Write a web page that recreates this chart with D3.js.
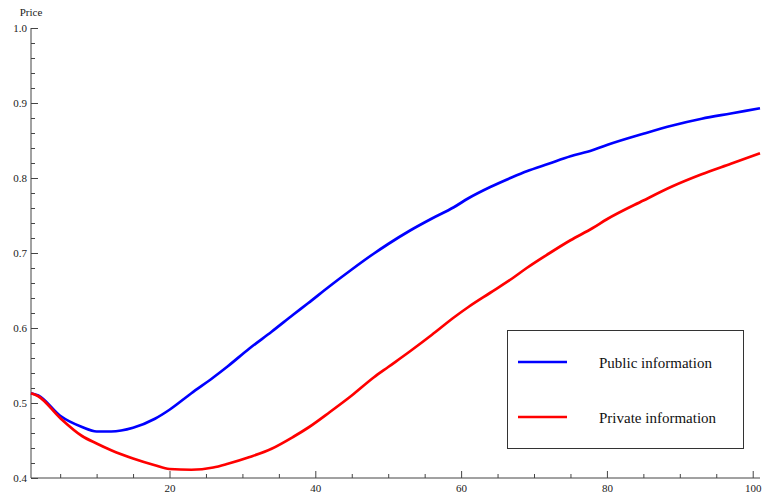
<!DOCTYPE html>
<html>
<head>
<meta charset="utf-8">
<script src="https://cdn.jsdelivr.net/npm/d3@7"></script>
<style>
  html, body { margin: 0; padding: 0; background: #fff; }
  svg { display: block; }
  text { font-family: "Liberation Serif", "Times New Roman", serif; }
</style>
</head>
<body>
<svg id="chart" width="767" height="495"></svg>
<script>
const periods = [1,2,5,8,10,12,15,18,20,23,26,28,31,34,37,39,42,45,48,50,53,56,59,61,64,67,69,72,75,78,80,85,89,93,97,101];
const publicInfo = [0.513,0.510,0.483,0.468,0.462,0.462,0.467,0.479,0.491,0.513,0.534,0.549,0.573,0.595,0.618,0.633,0.656,0.678,0.699,0.712,0.730,0.746,0.761,0.773,0.788,0.801,0.809,0.819,0.829,0.837,0.844,0.859,0.870,0.879,0.886,0.893];
const privateInfo = [0.513,0.509,0.480,0.456,0.446,0.437,0.426,0.417,0.412,0.411,0.414,0.419,0.428,0.439,0.455,0.467,0.488,0.510,0.534,0.548,0.569,0.591,0.614,0.628,0.647,0.666,0.680,0.699,0.717,0.733,0.745,0.770,0.789,0.805,0.819,0.833];
const xMajorTicks = [20,40,60,80,100];
const xMinorTicks = [5,10,15,25,30,35,45,50,55,65,70,75,85,90,95];
const yMajorTicks = [0.4,0.5,0.6,0.7,0.8,0.9,1.0];
const yMinorTicks = [0.42,0.44,0.46,0.48,0.52,0.54,0.56,0.58,0.62,0.64,0.66,0.68,0.72,0.74,0.76,0.78,0.82,0.84,0.86,0.88,0.92,0.94,0.96,0.98];
const seriesNames = ["Public information", "Private information"];
const seriesColors = ["#0000ff", "#ff0000"];
const yLabel = "Price";

const svg = d3.select("#chart");
const x = d3.scaleLinear().domain([1, 101]).range([31, 760]);
const y = d3.scaleLinear().domain([0.4, 1.0]).range([478, 28]);
const axisColor = "#444";
const serif = '"Liberation Serif", "Times New Roman", serif';

// X axis
const gx = svg.append("g").attr("transform", `translate(0,${y(0.4)})`)
  .call(d3.axisTop(x).tickValues(xMinorTicks).tickSize(4).tickFormat(""));
gx.select(".domain").remove();
const gxMaj = svg.append("g").attr("transform", `translate(0,${y(0.4)})`)
  .call(d3.axisTop(x).tickValues(xMajorTicks).tickSize(7).tickFormat(""));
gxMaj.select(".domain").remove();
const gxLab = svg.append("g").attr("transform", `translate(0,${y(0.4)})`)
  .call(d3.axisBottom(x).tickValues(xMajorTicks).tickSize(0).tickPadding(6).tickFormat(d3.format("d")));
gxLab.select(".domain").remove();
gxLab.attr("font-family", serif);
gxLab.selectAll("text").attr("font-size", 11).attr("fill", "#222").style("font-family", serif);
svg.append("line").attr("x1", x(1)).attr("x2", x(101)).attr("y1", y(0.4)).attr("y2", y(0.4))
  .attr("stroke", axisColor).attr("stroke-width", 1);

// Y axis
const gy = svg.append("g").attr("transform", `translate(${x(1)},0)`)
  .call(d3.axisRight(y).tickValues(yMinorTicks).tickSize(4).tickFormat(""));
gy.select(".domain").remove();
const gyMaj = svg.append("g").attr("transform", `translate(${x(1)},0)`)
  .call(d3.axisRight(y).tickValues(yMajorTicks).tickSize(7).tickFormat(""));
gyMaj.select(".domain").remove();
const gyLab = svg.append("g").attr("transform", `translate(${x(1)},0)`)
  .call(d3.axisLeft(y).tickValues(yMajorTicks).tickSize(0).tickPadding(4).tickFormat(d3.format(".1f")));
gyLab.select(".domain").remove();
gyLab.attr("font-family", serif);
gyLab.selectAll("text").attr("font-size", 11).attr("fill", "#222").style("font-family", serif);
svg.append("line").attr("x1", x(1)).attr("x2", x(1)).attr("y1", y(0.4)).attr("y2", y(1.0))
  .attr("stroke", axisColor).attr("stroke-width", 1);

svg.selectAll(".tick line").attr("stroke", axisColor);

svg.append("text").attr("x", x(1)).attr("y", 16).attr("text-anchor", "middle")
  .attr("font-size", 11).attr("fill", "#222").text(yLabel);

// Lines
const series = [publicInfo, privateInfo];
const line = d3.line().x((d, i) => x(periods[i])).y(d => y(d)).curve(d3.curveMonotoneX);
svg.append("g").selectAll("path").data(series).join("path")
  .attr("d", d => line(d))
  .attr("fill", "none")
  .attr("stroke", (d, i) => seriesColors[i])
  .attr("stroke-width", 2.7)
  .attr("stroke-linejoin", "round");

// Legend
const legend = svg.append("g");
legend.append("rect").attr("x", 507.5).attr("y", 330.5).attr("width", 236).attr("height", 118)
  .attr("fill", "#fff").attr("stroke", "#333").attr("stroke-width", 1);
const items = legend.selectAll("g.item").data(seriesNames).join("g").attr("class", "item")
  .attr("transform", (d, i) => `translate(0,${362 + i * 55})`);
items.append("line").attr("x1", 518).attr("x2", 567).attr("y1", 0).attr("y2", 0)
  .attr("stroke", (d, i) => seriesColors[i]).attr("stroke-width", 2.7);
items.append("text").attr("x", 599).attr("y", 5.5).attr("font-size", 15).attr("fill", "#111")
  .text(d => d);
</script>
</body>
</html>
